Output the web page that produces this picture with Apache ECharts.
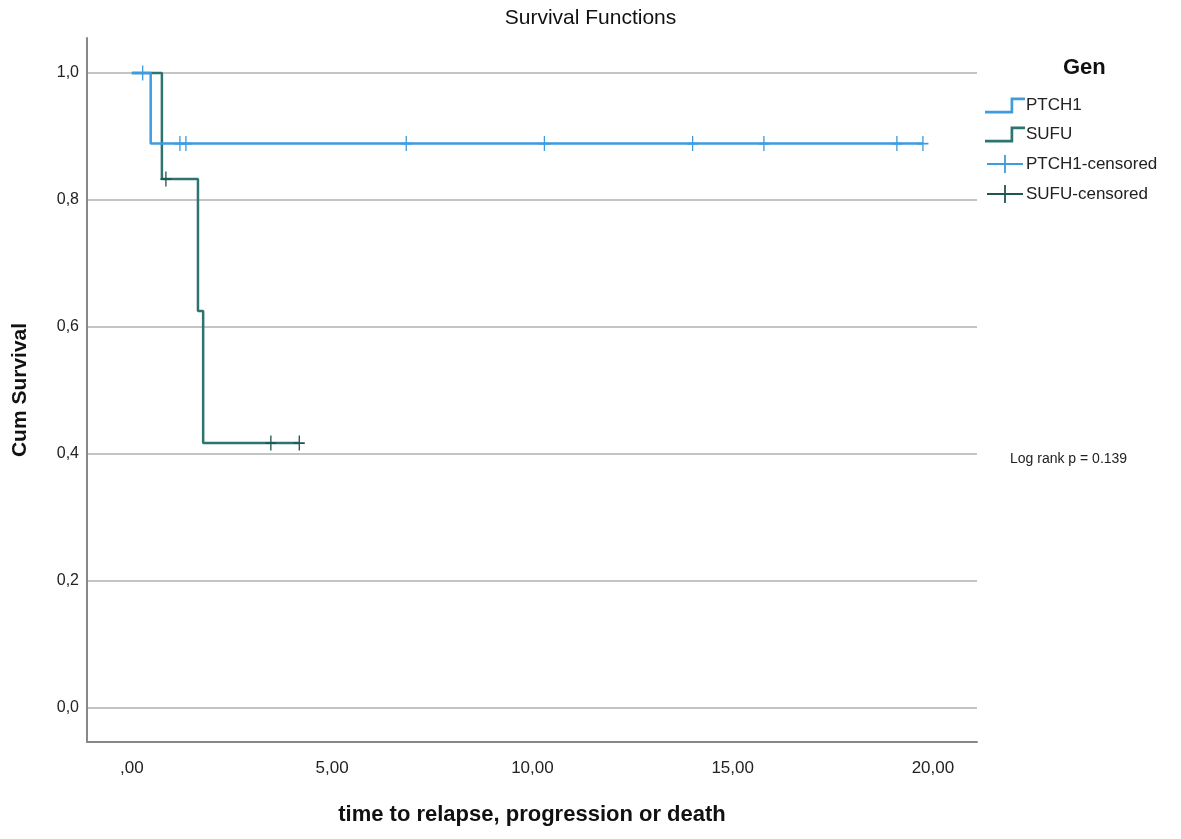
<!DOCTYPE html>
<html>
<head>
<meta charset="utf-8">
<title>Survival Functions</title>
<script src="https://cdn.jsdelivr.net/npm/echarts@6/dist/echarts.min.js"></script>
<style>
  html, body { margin: 0; padding: 0; background: #fff; }
  #chart { width: 1181px; height: 839px; }
</style>
</head>
<body>
<div id="chart"></div>
<script>
// step curves: [time, cum survival]
var ptch1Curve = [[0, 1], [0.47, 0.889], [19.75, 0.889]];
var sufuCurve = [[0, 1], [0.75, 0.833], [1.65, 0.625], [1.78, 0.417], [4.18, 0.417]];
// censored observations
var ptch1Censored = [[0.27, 1], [1.2, 0.889], [1.35, 0.889], [6.85, 0.889], [10.3, 0.889],
  [14.0, 0.889], [15.78, 0.889], [19.1, 0.889], [19.75, 0.889]];
var sufuCensored = [[0.85, 0.833], [3.47, 0.417], [4.18, 0.417]];
var xTicks = [0, 5, 10, 15, 20];
var yTicks = [0, 0.2, 0.4, 0.6, 0.8, 1.0];

var FONT = 'Liberation Sans, Arial, sans-serif';
var BLUE = '#3d9be0';
var TEAL = '#2d7470';
var TEAL_DARK = '#1f5552';

var stepIcon = 'path://M0,12 L23,12 L23,0 L36,0 L36,2.4 L25.4,2.4 L25.4,14.4 L0,14.4 Z';
var plusIcon = 'path://M0,9 L40,9 L40,11 L0,11 Z M19,0 L21,0 L21,20 L19,20 Z';
var plusMark = 'path://M0,9 L20,9 L20,11.4 L0,11.4 Z M8.8,0 L11.2,0 L11.2,20 L8.8,20 Z';

function commaNum(v, d) {
  var s = v.toFixed(d).replace('.', ',');
  return s.indexOf('0,') === 0 && d === 2 ? s.slice(1) : s;
}

var myChart = echarts.init(document.getElementById('chart'));
myChart.setOption({
  animation: false,
  textStyle: { fontFamily: FONT },
  title: [
    {
      text: 'Survival Functions',
      left: 'center',
      top: 3,
      textStyle: { fontSize: 21, fontWeight: 'normal', color: '#111', fontFamily: FONT }
    },
    {
      text: 'Gen',
      left: 1058,
      top: 52,
      textStyle: { fontSize: 22, fontWeight: 'bold', color: '#111', fontFamily: FONT }
    }
  ],
  legend: {
    orient: 'vertical',
    left: 980,
    top: 92,
    itemGap: 12,
    itemWidth: 40,
    itemHeight: 18,
    textStyle: { fontSize: 17, color: '#222', fontFamily: FONT, padding: [0, 0, 0, -4] },
    data: [
      { name: 'PTCH1', icon: stepIcon, itemStyle: { color: BLUE } },
      { name: 'SUFU', icon: stepIcon, itemStyle: { color: TEAL } },
      { name: 'PTCH1-censored', icon: plusIcon, itemStyle: { color: BLUE } },
      { name: 'SUFU-censored', icon: plusIcon, itemStyle: { color: TEAL_DARK } }
    ]
  },
  graphic: [
    {
      type: 'text',
      left: 1010,
      top: 452,
      style: { text: 'Log rank p = 0.139', fontSize: 14, fill: '#222', fontFamily: FONT }
    }
  ],
  grid: { left: 87, right: 204, top: 38, bottom: 97 },
  xAxis: {
    type: 'value',
    min: -1.12,
    max: 21.1,
    name: 'time to relapse, progression or death',
    nameLocation: 'middle',
    nameGap: 62,
    nameTextStyle: { fontSize: 22, fontWeight: 'bold', color: '#111', fontFamily: FONT },
    axisLine: { onZero: false, lineStyle: { color: '#888', width: 2 } },
    axisTick: { show: false, customValues: xTicks },
    axisLabel: {
      customValues: xTicks,
      margin: 18,
      fontSize: 17,
      color: '#222',
      formatter: function (v) { return commaNum(v, 2); }
    },
    splitLine: { show: false }
  },
  yAxis: {
    type: 'value',
    min: -0.054,
    max: 1.055,
    name: 'Cum Survival',
    nameLocation: 'middle',
    nameGap: 56,
    nameTextStyle: { fontSize: 21, fontWeight: 'bold', color: '#111', fontFamily: FONT },
    axisLine: { show: true, onZero: false, lineStyle: { color: '#888', width: 2 } },
    axisTick: { show: false, customValues: yTicks },
    axisLabel: {
      customValues: yTicks,
      margin: 8,
      fontSize: 16,
      color: '#222',
      formatter: function (v) { return commaNum(v, 1); }
    },
    splitLine: { show: true, lineStyle: { color: '#c4c4c4', width: 2 } }
  },
  series: [
    {
      name: 'PTCH1',
      type: 'line',
      step: 'end',
      data: ptch1Curve,
      showSymbol: false,
      lineStyle: { color: BLUE, width: 2.5 },
      itemStyle: { color: BLUE },
      z: 3
    },
    {
      name: 'SUFU',
      type: 'line',
      step: 'end',
      data: sufuCurve,
      showSymbol: false,
      lineStyle: { color: TEAL, width: 2.5 },
      itemStyle: { color: TEAL },
      z: 2
    },
    {
      name: 'PTCH1-censored',
      type: 'scatter',
      data: ptch1Censored,
      symbol: plusMark,
      symbolSize: [11, 15],
      itemStyle: { color: BLUE, opacity: 1 },
      z: 4
    },
    {
      name: 'SUFU-censored',
      type: 'scatter',
      data: sufuCensored,
      symbol: plusMark,
      symbolSize: [11, 15],
      itemStyle: { color: TEAL_DARK, opacity: 1 },
      z: 4
    }
  ]
});
</script>
</body>
</html>
